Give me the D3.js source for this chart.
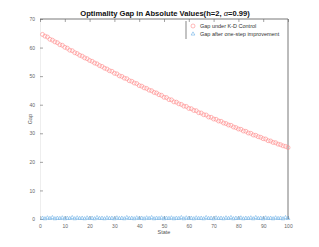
<!DOCTYPE html>
<html>
<head>
<meta charset="utf-8">
<script src="https://cdn.jsdelivr.net/npm/d3@7"></script>
<style>
body { margin: 0; background: #fff; }
svg { font-family: "Liberation Sans", Arial, sans-serif; }
</style>
</head>
<body>
<svg width="319" height="247"></svg>
<script>
// values
var states = d3.range(1, 101);
var gapKD = [64.6,64.0,63.7,62.9,62.6,62.0,61.7,61.0,60.8,60.1,
             59.8,59.1,58.9,58.2,57.9,57.3,57.0,56.4,56.1,55.5,
             55.2,54.6,54.3,53.7,53.4,52.8,52.5,51.9,51.7,51.0,
             50.8,50.1,49.9,49.3,49.1,48.4,48.2,47.6,47.4,46.7,
             46.5,45.9,45.7,45.1,44.9,44.3,44.1,43.5,43.3,42.6,
             42.5,41.8,41.7,41.0,40.9,40.3,40.1,39.5,39.4,38.7,
             38.6,38.0,37.9,37.2,37.1,36.5,36.4,35.7,35.6,35.0,
             34.9,34.3,34.2,33.6,33.4,32.9,32.8,32.2,32.0,31.5,
             31.4,30.8,30.7,30.1,30.0,29.4,29.3,28.8,28.6,28.1,
             28.0,27.4,27.3,26.8,26.7,26.2,26.0,25.6,25.4,25.0];
var gapImp = [0.3,0.1,0.4,0.2,0.5,0.1,0.3,0.2,0.4,0.1,
              0.3,0.2,0.5,0.1,0.4,0.2,0.3,0.1,0.4,0.2,
              0.3,0.1,0.5,0.2,0.3,0.1,0.4,0.2,0.3,0.1,
              0.4,0.2,0.3,0.1,0.5,0.2,0.3,0.1,0.4,0.2,
              0.3,0.1,0.4,0.2,0.5,0.1,0.3,0.2,0.4,0.1,
              0.3,0.2,0.4,0.1,0.3,0.2,0.5,0.1,0.4,0.2,
              0.3,0.1,0.4,0.2,0.3,0.1,0.5,0.2,0.3,0.1,
              0.4,0.2,0.3,0.1,0.4,0.2,0.5,0.1,0.3,0.2,
              0.4,0.1,0.3,0.2,0.4,0.1,0.5,0.2,0.3,0.1,
              0.4,0.2,0.3,0.1,0.4,0.2,0.3,0.1,0.5,0.2];
var xTicks = [0,10,20,30,40,50,60,70,80,90,100];
var yTicks = [0,10,20,30,40,50,60,70];
var seriesNames = ["Gap under K-D Control", "Gap after one-step improvement"];

var svg = d3.select("svg"),
    pLeft = 40, pRight = 288, pTop = 19, pBottom = 219;

var xScale = d3.scaleLinear().domain([0, 100]).range([pLeft, pRight]),
    yScale = d3.scaleLinear().domain([0, 70]).range([pBottom, pTop]);

// frame: top and right edges
svg.append("line").attr("x1", pLeft).attr("x2", pRight).attr("y1", pTop).attr("y2", pTop)
   .attr("stroke", "#555").attr("stroke-width", 0.8);
svg.append("line").attr("x1", pRight).attr("x2", pRight).attr("y1", pTop).attr("y2", pBottom)
   .attr("stroke", "#555").attr("stroke-width", 0.8);

// axes with ticks drawn inward
var xAxis = svg.append("g")
   .attr("transform", "translate(0," + pBottom + ")")
   .call(d3.axisBottom(xScale).tickValues(xTicks).tickSizeInner(-3).tickSizeOuter(0).tickPadding(5));
var yAxis = svg.append("g")
   .attr("transform", "translate(" + pLeft + ",0)")
   .call(d3.axisLeft(yScale).tickValues(yTicks).tickSizeInner(-3).tickSizeOuter(0).tickPadding(5));
svg.append("g")
   .attr("transform", "translate(0," + pTop + ")")
   .call(d3.axisTop(xScale).tickValues(xTicks).tickSizeInner(-3).tickSizeOuter(0).tickFormat(""))
   .call(function(g) {
     g.select(".domain").remove();
     g.selectAll(".tick line").attr("stroke", "#666").attr("stroke-width", 0.6);
   });

[xAxis, yAxis].forEach(function(a) {
  a.select(".domain").attr("stroke", "#ddd").attr("stroke-width", 0.5);
  a.selectAll(".tick line").attr("stroke", "#666").attr("stroke-width", 0.6);
  a.selectAll("text").attr("fill", "#666").style("font-size", "5px");
});

// red circles
svg.append("g").selectAll("circle")
   .data(states)
   .enter().append("circle")
   .attr("cx", function(d) { return xScale(d); })
   .attr("cy", function(d, i) { return yScale(gapKD[i]); })
   .attr("r", 2)
   .attr("fill", "none")
   .attr("stroke", "#ff8a8a")
   .attr("stroke-width", 0.6);

// blue triangles
var tri = d3.symbol().type(d3.symbolTriangle).size(6);
svg.append("g").selectAll("path")
   .data(states)
   .enter().append("path")
   .attr("d", tri)
   .attr("transform", function(d, i) { return "translate(" + xScale(d) + "," + yScale(gapImp[i]) + ")"; })
   .attr("fill", "none")
   .attr("stroke", "#6fb2e8")
   .attr("stroke-width", 0.6);

// title and axis labels
var title = svg.append("text").attr("x", 165).attr("y", 16).attr("text-anchor", "middle")
   .style("font-size", "7.6px").style("font-weight", "bold").attr("fill", "#111");
title.append("tspan").text("Optimality Gap in Absolute Values(h=2, ");
title.append("tspan").style("font-style", "italic").style("font-weight", "normal").text("α");
title.append("tspan").text("=0.99)");
svg.append("text").attr("x", 164).attr("y", 234).attr("text-anchor", "middle")
   .style("font-size", "5.5px").attr("fill", "#555").text("State");
svg.append("text").attr("transform", "translate(32,119) rotate(-90)").attr("text-anchor", "middle")
   .style("font-size", "5.5px").attr("fill", "#555").text("Gap");

// legend
var leg = svg.append("g");
leg.append("line").attr("x1", 186).attr("x2", 186).attr("y1", 21).attr("y2", 39)
   .attr("stroke", "#555").attr("stroke-width", 0.7);
leg.append("circle").attr("cx", 193).attr("cy", 26).attr("r", 2)
   .attr("fill", "none").attr("stroke", "#ff8a8a").attr("stroke-width", 0.6);
leg.append("path").attr("d", tri).attr("transform", "translate(193,34)")
   .attr("fill", "none").attr("stroke", "#6fb2e8").attr("stroke-width", 0.6);
leg.selectAll("text").data(seriesNames).enter().append("text")
   .attr("x", 200).attr("y", function(d, i) { return 28 + i * 8; })
   .style("font-size", "5.5px").attr("fill", "#333")
   .text(function(d) { return d; });
</script>
</body>
</html>
